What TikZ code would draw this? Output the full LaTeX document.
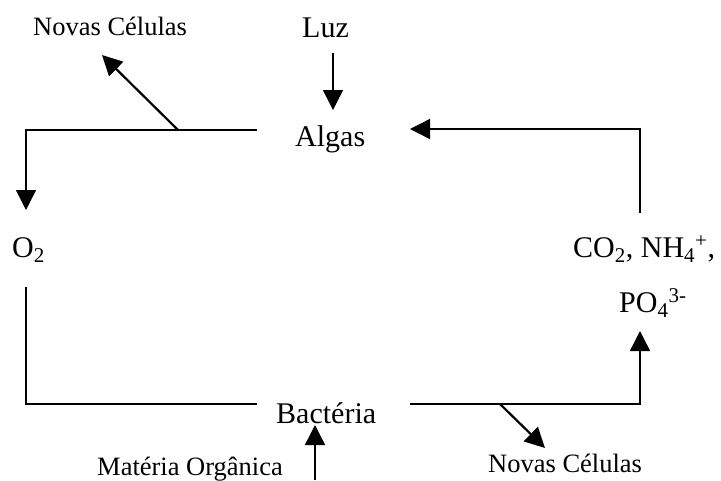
\documentclass[tikz,border=0pt]{standalone}
\usepackage{fontspec}
\setmainfont{Liberation Serif}
\usetikzlibrary{arrows.meta}
\tikzset{
  big/.style={inner sep=0pt, font=\fontsize{30}{36}\selectfont},
  small/.style={inner sep=0pt, font=\fontsize{26.5}{32}\selectfont},
  conn/.style={line width=1.4pt, line join=miter},
  arr/.style={conn, -{Triangle[length=20pt,width=20pt]}},
  diag/.style={arr, line width=2.2pt}
}
\begin{document}
\begin{tikzpicture}[x=1pt,y=-1pt]
\useasboundingbox (0,0) rectangle (721,480);
% texts
\node[big, anchor=base west] (luz) at (302,37) {Luz};
\node[big, anchor=base west] (algas) at (295,146) {Algas};
\node[small, anchor=base west] (novas1) at (33,35) {Novas Células};
\node[big, anchor=base west] (o2) at (12,257) {O\textsubscript{2}};
\node[big, anchor=base west] (co2) at (573,257) {CO\textsubscript{2}, NH\textsubscript{4}\textsuperscript{+},};
\node[big, anchor=base west] (po4) at (619,312) {PO\textsubscript{4}\textsuperscript{3-}};
\node[big, anchor=base west] (bact) at (276,423) {Bactéria};
\node[small, anchor=base west] (mat) at (97,475) {Matéria Orgânica};
\node[small, anchor=base west] (novas2) at (488,472) {Novas Células};
% coordinates
\coordinate (luzS) at (333,53);
\coordinate (algasN) at (333,110);
\coordinate (aL) at (257,130);
\coordinate (cTL) at (26,130);
\coordinate (o2N) at (26,210);
\coordinate (brA) at (178,130);
\coordinate (nc1) at (102,55);
\coordinate (o2S) at (26,287);
\coordinate (cBL) at (26,404);
\coordinate (bL) at (257,404);
\coordinate (bR) at (410,404);
\coordinate (cBR) at (640,404);
\coordinate (po4S) at (640,331);
\coordinate (brB) at (500,404);
\coordinate (nc2) at (545,448);
\coordinate (matS) at (315,480);
\coordinate (bactS) at (315,425);
\coordinate (co2N) at (640,213);
\coordinate (cTR) at (640,129);
\coordinate (algasE) at (410,129);
% connectors
\draw[arr] (luzS) -- (algasN);
\draw[arr] (aL) -- (cTL) -- (o2N);
\draw[diag] (brA) -- (nc1);
\draw[conn] (o2S) -- (cBL) -- (bL);
\draw[arr] (bR) -- (cBR) -- (po4S);
\draw[diag] (brB) -- (nc2);
\draw[arr] (matS) -- (bactS);
\draw[arr] (co2N) -- (cTR) -- (algasE);
\end{tikzpicture}
\end{document}
